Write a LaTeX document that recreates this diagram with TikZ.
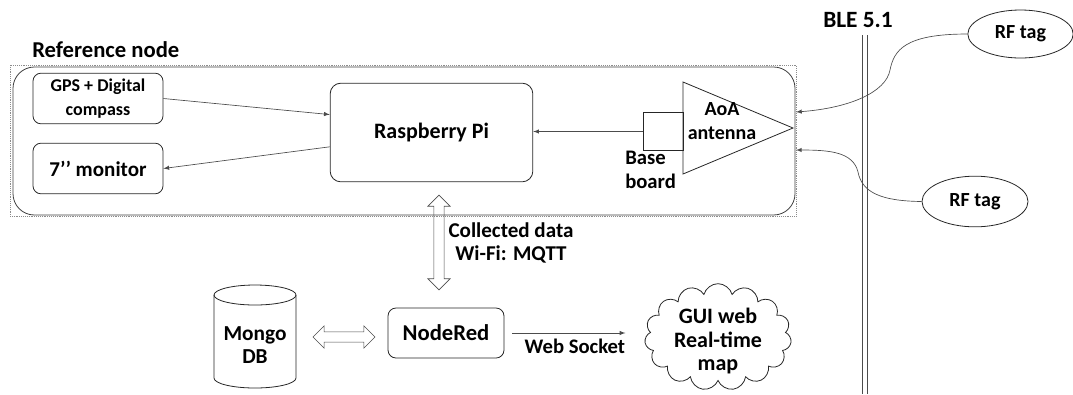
\documentclass[tikz,border=0pt]{standalone}
\usepackage{fontspec}
\setmainfont{Carlito}
\usetikzlibrary{shapes.geometric,shapes.symbols,shapes.arrows}

\tikzset{
  txt/.style={font=\bfseries\fontsize{#1}{17.5}\selectfont, align=center, inner sep=0pt},
  unit/.style={draw=black!85, rounded corners=6pt, line width=0.6pt},
  conn/.style={draw=black!70, line width=0.5pt, -latex},
  bidir/.style={double arrow, draw=black!70, line width=0.5pt, inner sep=0pt,
    inner ysep=3.6pt, double arrow head extend=4.5pt},
  tag/.style={ellipse, draw=black!85, line width=0.6pt}
}

\begin{document}
\begin{tikzpicture}[x=0.75pt,y=-0.75pt]
\useasboundingbox (0,0) rectangle (1073,394);

% reference node
\node[draw=black!45, densely dotted, minimum width=589.5pt, minimum height=113.25pt] (refdot) at (403,140.5) {};
\node[draw=black!75, line width=0.6pt, rounded corners=16pt, minimum width=586.5pt, minimum height=111pt] (refbox) at (404,141) {};
\node[txt=17, anchor=west] (reflabel) at (32,50) {Reference node};

\node[unit, txt=13.5, minimum width=97.5pt, minimum height=38pt] (gps) at (98,98.5) {GPS + Digital\\compass};
\node[unit, txt=15.8, minimum width=97.5pt, minimum height=38pt] (monitor) at (98,168.5) {7’’ monitor};
\node[unit, rounded corners=8pt, txt=16.5, minimum width=152pt, minimum height=74pt] (rpi) at (431.5,132.5) {Raspberry Pi};

% antenna
\node[draw=black!85, line width=0.6pt, minimum width=30pt, minimum height=29pt, inner sep=0pt] (base) at (663,131.5) {};
\draw[black!85, line width=0.6pt] (683,82) -- (793,128) -- (683,174) -- cycle;
\node[txt=15] (aoa) at (722,121) {AoA\\antenna};
\node[txt=15.5, anchor=west, align=left] (baselabel) at (625,170) {Base\\board};

\draw[conn] (gps.east) -- (rpi.170);
\draw[conn] (rpi.188) -- (monitor.east);
\draw[conn] (base.west) -- (rpi.east |- base.west);

% BLE link
\node[txt=17.5] (ble) at (858,20) {BLE 5.1};
\draw[black!70, line width=0.5pt] (862,35) -- (862,394);
\draw[black!70, line width=0.5pt] (867,35) -- (867,394);

\node[tag, txt=15, minimum width=79pt, minimum height=36pt] (tag1) at (1020.5,34) {RF tag};
\node[tag, txt=15, minimum width=79.5pt, minimum height=38pt] (tag2) at (975,201.5) {RF tag};
\coordinate (in1) at (796,112);
\coordinate (in2) at (796,150);
\draw[conn] (tag1.west) .. controls (905,34) and (894,50) .. (890,70)
  .. controls (886,92) and (850,108) .. (in1);
\draw[conn] (tag2.west) .. controls (880,201) and (862,192) .. (858,172)
  .. controls (853,152) and (830,150) .. (in2);

% server side
\node[bidir, rotate=90, minimum height=71pt] (mqtt) at (439,242.5) {};
\node[txt=15.8] (mqttlabel) at (511,243) {Collected data\\Wi-Fi: MQTT};

\node[unit, txt=17, minimum width=87pt, minimum height=37.5pt] (nodered) at (446,333) {NodeRed};
% database drum
\draw[black!85, line width=0.6pt] (255,295) ellipse [x radius=41, y radius=10];
\draw[black!85, line width=0.6pt] (214,295) -- (214,378)
  arc[start angle=180, end angle=0, x radius=41, y radius=10] -- (296,295);
\node[txt=16] (mongo) at (255,345) {Mongo\\DB};
\node[bidir, minimum height=46.5pt] (dblink) at (344,337) {};

\node[cloud, cloud puffs=15, aspect=1.4, draw=black!85, line width=0.6pt,
  minimum width=110pt, minimum height=80pt, inner sep=0pt] (gui) at (718,337) {};
\node[txt=16.5] (guilabel) at (718,341) {GUI web\\Real-time\\map};
\draw[conn, shorten <=6pt, shorten >=15pt] (nodered.east) -- (nodered.east -| gui.west)
  node[midway, below=4pt, txt=15.5] (wslabel) {Web Socket};
\end{tikzpicture}
\end{document}
